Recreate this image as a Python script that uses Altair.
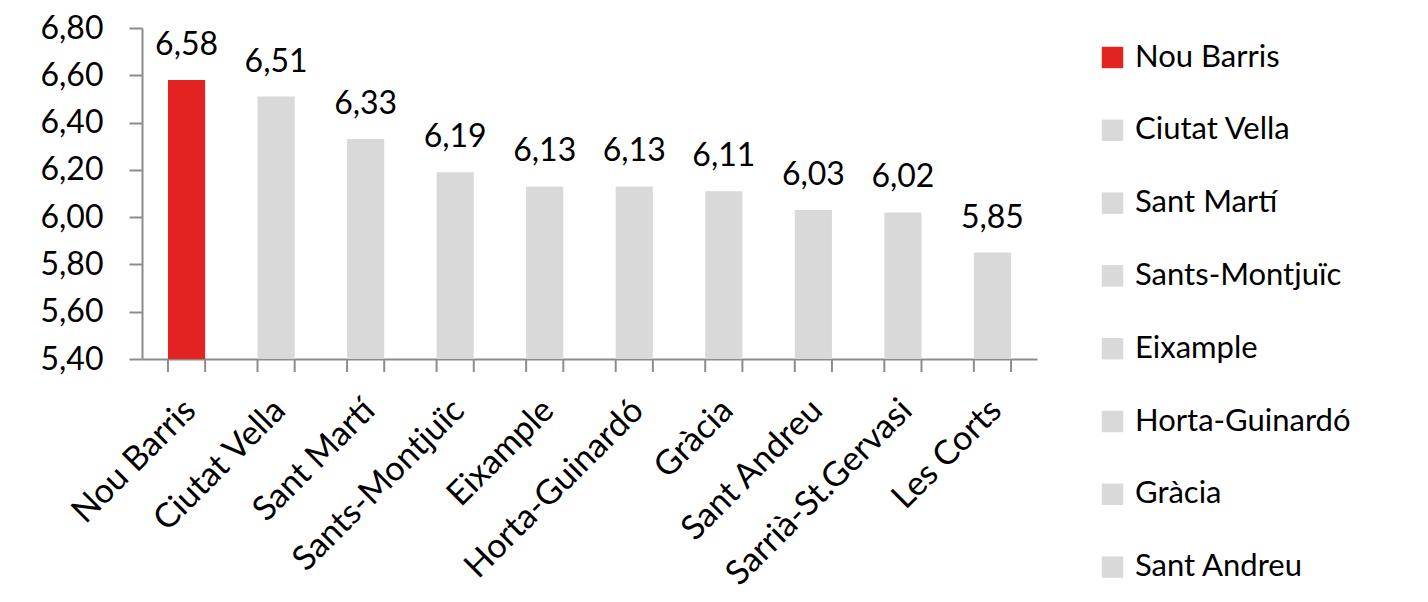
import altair as alt
import pandas as pd

districts = ["Nou Barris", "Ciutat Vella", "Sant Martí", "Sants-Montjuïc", "Eixample",
             "Horta-Guinardó", "Gràcia", "Sant Andreu", "Sarrià-St.Gervasi", "Les Corts"]
values = [6.58, 6.51, 6.33, 6.19, 6.13, 6.13, 6.11, 6.03, 6.02, 5.85]
bar_colors = ["#E32322"] + ["#D9D9D9"] * 9
y_ticks = [5.4, 5.6, 5.8, 6.0, 6.2, 6.4, 6.6, 6.8]
y_domain = [5.4, 6.8]

df = pd.DataFrame({
    "district": districts,
    "value": values,
    "label": [f"{v:.2f}".replace(".", ",") for v in values],
})

FONT = "Lato"
AXIS_COLOR = "#8C8C8C"
W, H = 895, 331

xscale = alt.Scale(paddingInner=0.585, paddingOuter=0.29)
yscale = alt.Scale(domain=y_domain, zero=False, nice=False)

x_main = alt.X(
    "district:N", sort=districts, scale=xscale,
    axis=alt.Axis(title=None, labelAngle=-45, ticks=False, domain=True,
                  domainColor=AXIS_COLOR, domainWidth=2, labelFontSize=34,
                  labelFont=FONT, labelColor="black", labelPadding=46,
                  labelAlign="right", labelBaseline="middle", labelOffset=4,
                  labelLimit=400),
)
y_main = alt.Y(
    "value:Q", scale=yscale,
    axis=alt.Axis(title=None, values=y_ticks, grid=False,
                  labelExpr="replace(format(datum.value, '.2f'), '.', ',')",
                  tickSize=13, tickWidth=2, tickColor=AXIS_COLOR,
                  domainColor=AXIS_COLOR, domainWidth=2, labelPadding=26,
                  labelFontSize=32, labelFont=FONT, labelColor="black"),
)

bars = alt.Chart(df).mark_bar(clip=True).encode(
    x=x_main,
    y=y_main,
    color=alt.Color(
        "district:N", sort=districts,
        scale=alt.Scale(domain=districts, range=bar_colors),
        legend=alt.Legend(title=None, values=districts[:8], orient="none",
                          legendX=955, legendY=14, symbolType="square",
                          symbolSize=460, symbolStrokeWidth=0,
                          labelFontSize=31, labelFont=FONT, labelColor="black",
                          rowPadding=40.8, labelOffset=7, labelLimit=400),
    ),
)

labels = alt.Chart(df).mark_text(
    dy=-25, baseline="alphabetic", fontSize=32, font=FONT, color="black"
).encode(
    x=alt.X("district:N", sort=districts, scale=xscale),
    y=alt.Y("value:Q", scale=yscale),
    text="label:N",
)

ticks_start = alt.Chart(df).mark_rule(color=AXIS_COLOR, strokeWidth=2).encode(
    x=alt.X("district:N", sort=districts, scale=xscale, bandPosition=0),
    y=alt.value(H),
    y2=alt.value(H + 13),
)
ticks_end = alt.Chart(df).mark_rule(color=AXIS_COLOR, strokeWidth=2).encode(
    x=alt.X("district:N", sort=districts, scale=xscale, bandPosition=1),
    y=alt.value(H),
    y2=alt.value(H + 13),
)

chart = alt.layer(bars, labels, ticks_start, ticks_end).properties(
    width=W, height=H,
    padding={"left": 134, "top": 20, "right": 380, "bottom": 234},
    autosize=alt.AutoSizeParams(type="none"),
).configure_view(stroke=None)

chart.save("out.html", embed_options={"renderer": "svg", "actions": False})
